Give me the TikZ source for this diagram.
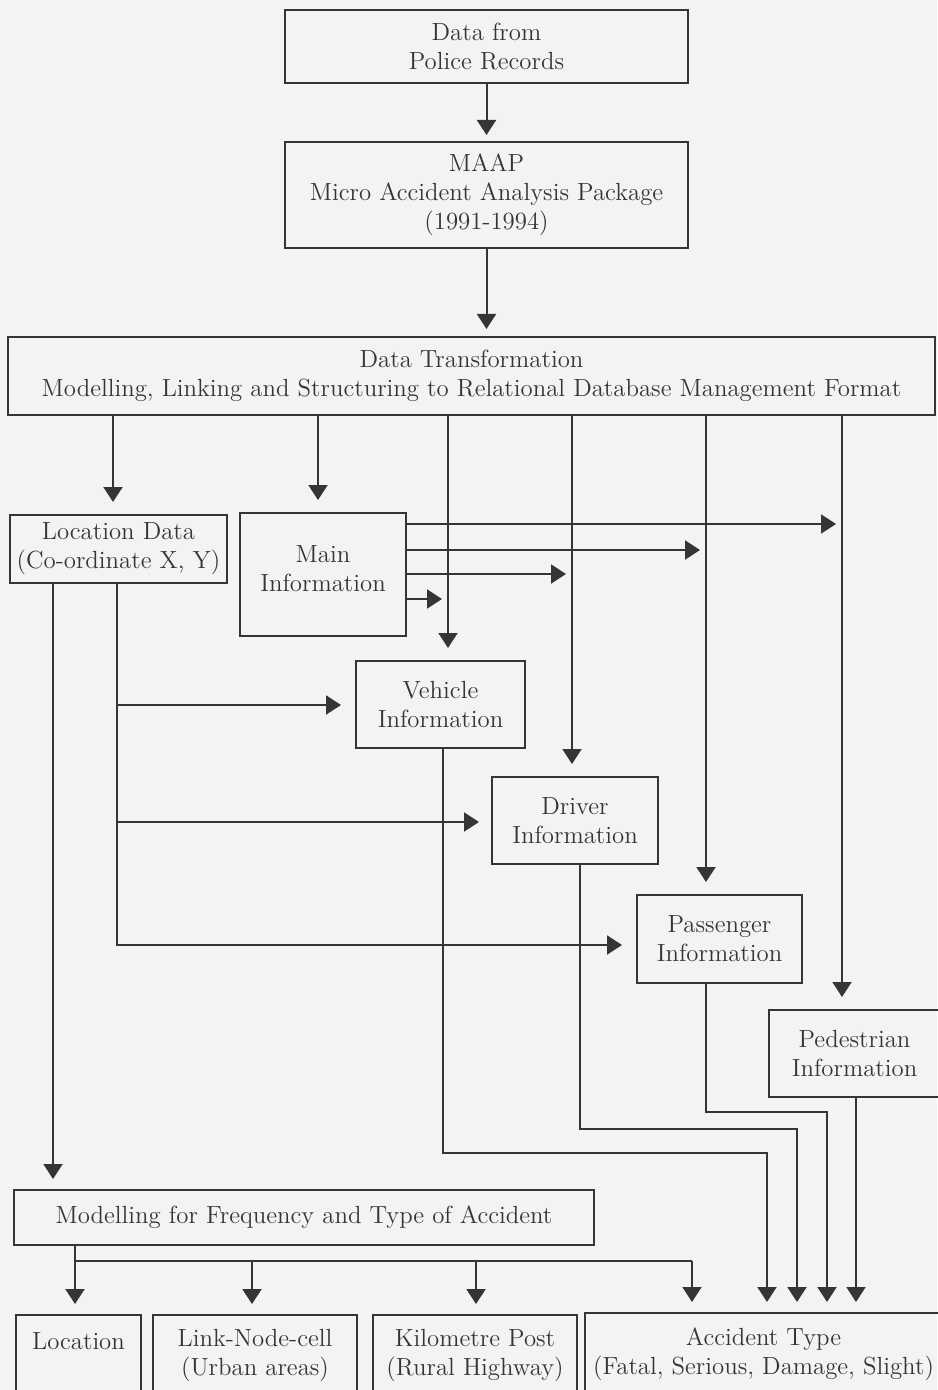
\documentclass[tikz,border=0pt]{standalone}
\usepackage{tikz}
\usetikzlibrary{arrows.meta,positioning,calc}
\definecolor{ink}{HTML}{353535}
\definecolor{paper}{HTML}{F3F3F3}
\tikzset{
  box/.style={draw=ink,line width=1pt,text=ink,align=center,inner sep=0pt,
    font=\fontsize{12.4}{14.5}\selectfont},
  ln/.style={draw=ink,line width=1pt},
  arr/.style={ln,-{Triangle[width=9.5pt,length=7.5pt]},shorten >=5pt},
}

\begin{document}
\begin{tikzpicture}[x=0.5pt,y=-0.5pt]
\fill[paper] (0,0) rectangle (937,1390);
\useasboundingbox (0,0) rectangle (937,1390);

% source and package
\node[box,minimum width=201.5pt,minimum height=36.5pt] (police) at (486.5,46.5) {Data from\\Police Records};
\node[box,minimum width=201.5pt,minimum height=53pt] (maap) at (486.5,195) {MAAP\\Micro Accident Analysis Package\\(1991-1994)};
\node[box,minimum width=463.5pt,minimum height=39pt] (trans) at (471.5,376) {Data Transformation\\Modelling, Linking and Structuring to Relational Database Management Format};

% tables
\node[box,minimum width=108.5pt,minimum height=34pt] (loc) at (118.5,549) {Location Data\\(Co-ordinate X, Y)};
\node[box,minimum width=83pt,minimum height=61.5pt] (main) at (323,574.5) {Main\\Information\\[-9pt]\mbox{}};
\node[box,minimum width=84.5pt,minimum height=43.5pt] (veh) at (440.5,704.5) {Vehicle\\Information};
\node[box,minimum width=83pt,minimum height=43.5pt] (drv) at (575,820.5) {Driver\\Information};
\node[box,minimum width=82.5pt,minimum height=44pt] (pas) at (719.5,939) {Passenger\\Information};
\node[box,minimum width=85.5pt,minimum height=43.5pt] (ped) at (854.5,1053.5) {Pedestrian\\Information};

% modelling and results
\node[box,minimum width=290pt,minimum height=27.5pt] (model) at (304,1217.5) {Modelling for Frequency and Type of Accident};
\node[box,minimum width=62.5pt,minimum height=40.5pt] (bloc) at (78.5,1355.5) {Location\\\mbox{}};
\node[box,minimum width=102pt,minimum height=40.5pt] (blink) at (255,1355.5) {Link-Node-cell\\(Urban areas)};
\node[box,minimum width=102pt,minimum height=40.5pt] (bkm) at (475,1355.5) {Kilometre Post\\(Rural Highway)};
\node[box,minimum width=178.5pt,minimum height=41.5pt] (bacc) at (763.5,1354.5) {Accident Type\\(Fatal, Serious, Damage, Slight)};

\draw[arr,shorten >=3pt] (police) -- (maap);
\draw[arr,shorten >=3.5pt] (maap.south) -- (maap.south |- trans.north);

\foreach \x/\b in {113/loc,318/main,448/veh,572/drv,706/pas,842/ped}
  \draw[arr,shorten >=6pt] (\x,0 |- trans.south) -- (\x,0 |- \b.north);

\foreach \y/\x in {524/842,550/706,574/572,599/448}
  \draw[arr,shorten >=3pt] (main.east |- 0,\y) -- (\x,\y);

\draw[arr] (53,0 |- loc.south) -- (53,0 |- model.north);
\draw[arr,shorten >=7pt] (117,0 |- loc.south) -- (117,945) -- (pas.west |- 0,945);
\draw[arr,shorten >=7pt] (117,705) -- (veh.west |- 0,705);
\draw[arr,shorten >=6pt] (117,822) -- (drv.west |- 0,822);

\draw[arr] (443,0 |- veh.south) |- (767,1153) -- (767,0 |- bacc.north);
\draw[arr] (580,0 |- drv.south) |- (797,1129) -- (797,0 |- bacc.north);
\draw[arr] (706,0 |- pas.south) |- (827,1112) -- (827,0 |- bacc.north);
\draw[arr] (856,0 |- ped.south) -- (856,0 |- bacc.north);

\draw[ln] (75,0 |- model.south) -- (75,1261) -- (692,1261);
\foreach \x/\b in {75/bloc,252/blink,476/bkm,692/bacc}
  \draw[arr] (\x,1261) -- (\x,0 |- \b.north);
\end{tikzpicture}
\end{document}
